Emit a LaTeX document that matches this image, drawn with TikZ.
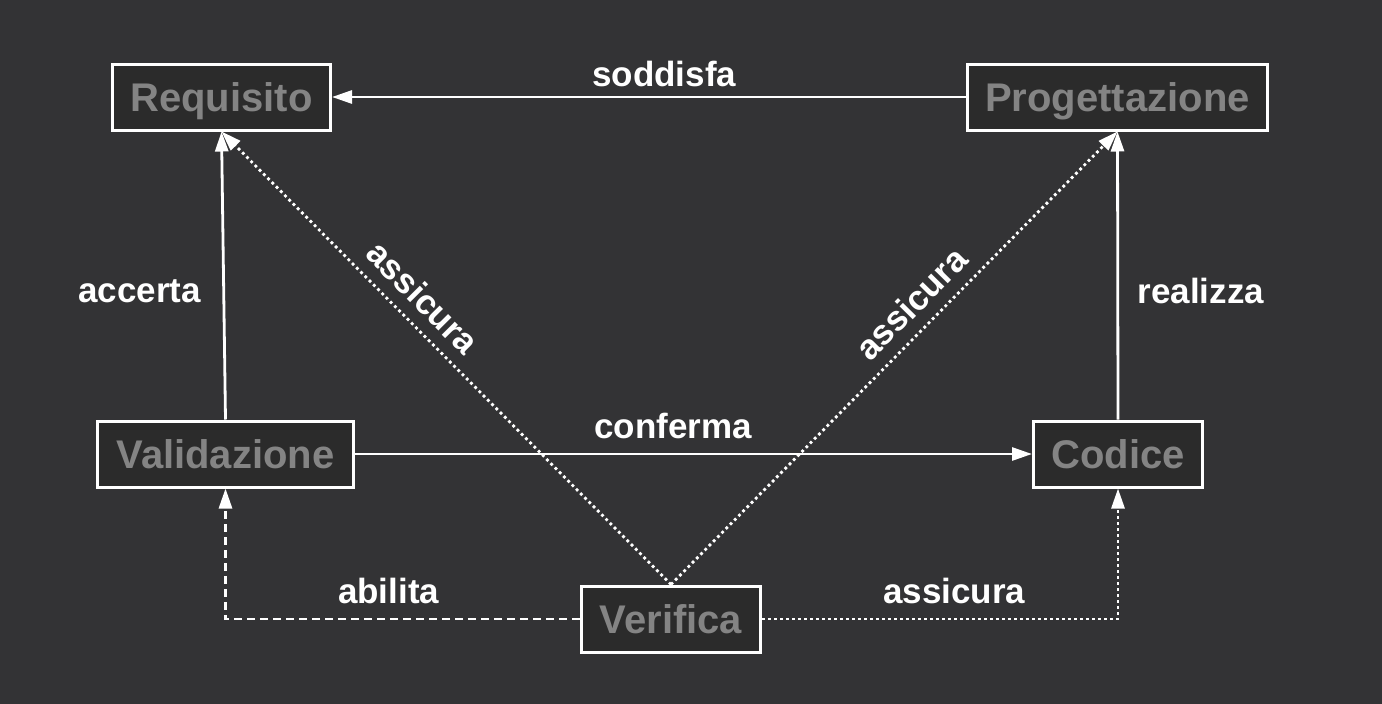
\documentclass[tikz,border=0pt]{standalone}
\usepackage{fontspec}
\setmainfont{Liberation Sans}
\usetikzlibrary{arrows.meta}
\definecolor{bg}{RGB}{51,51,53}
\definecolor{boxfill}{RGB}{43,43,43}
\definecolor{boxtext}{RGB}{132,132,132}
\begin{document}
\begin{tikzpicture}[x=1pt,y=-1pt,
  box/.style={draw=white, line width=3pt, fill=boxfill, text=boxtext, font=\fontsize{40}{48}\selectfont\bfseries, inner sep=0pt, minimum height=66pt, text depth=0pt, text height=29pt},
  conn/.style={draw=white, line width=2.8pt, -{Triangle[length=20pt,width=13pt]}},
  dotline/.style={dash pattern=on 2.8pt off 3.2pt},
  dashline/.style={dash pattern=on 8pt off 5pt},
  lbl/.style={text=white, font=\fontsize{35}{42}\selectfont\bfseries, inner sep=0pt}]
\fill[bg] (0,0) rectangle (1382,704);
\useasboundingbox (0,0) rectangle (1382,704);
\node[box, minimum width=218pt] (req) at (221.5,97) {Requisito};
\node[box, minimum width=300pt] (prog) at (1117.5,97) {Progettazione};
\node[box, minimum width=256pt] (val) at (225.5,454) {Validazione};
\node[box, minimum width=169pt] (cod) at (1118,454) {Codice};
\node[box, minimum width=179pt] (ver) at (671,619) {Verifica};

\draw[conn] (prog.west) -- node[lbl, pos=0.476, yshift=23pt] {soddisfa} (req.east);
\draw[conn] (val.north) -- node[lbl, pos=0.446, xshift=-84pt] {accerta} (req.south);
\draw[conn] (cod.north) -- node[lbl, pos=0.445, xshift=83pt] {realizza} (prog.south);
\draw[conn] (val.east) -- node[lbl, pos=0.47, yshift=28pt] {conferma} (cod.west);
\draw[conn, dotline] (ver.north) -- node[lbl, pos=0.593, sloped, above=12pt] {assicura} (req.south);
\draw[conn, dotline] (ver.north) -- node[lbl, pos=0.58, sloped, above=12pt] {assicura} (prog.south);
\draw[conn, dashline] (ver.west) -| node[lbl, pos=0.27, yshift=28pt] {abilita} (val.south);
\draw[conn, dotline] (ver.east) -| node[lbl, pos=0.27, yshift=28pt] {assicura} (cod.south);
\end{tikzpicture}
\end{document}
